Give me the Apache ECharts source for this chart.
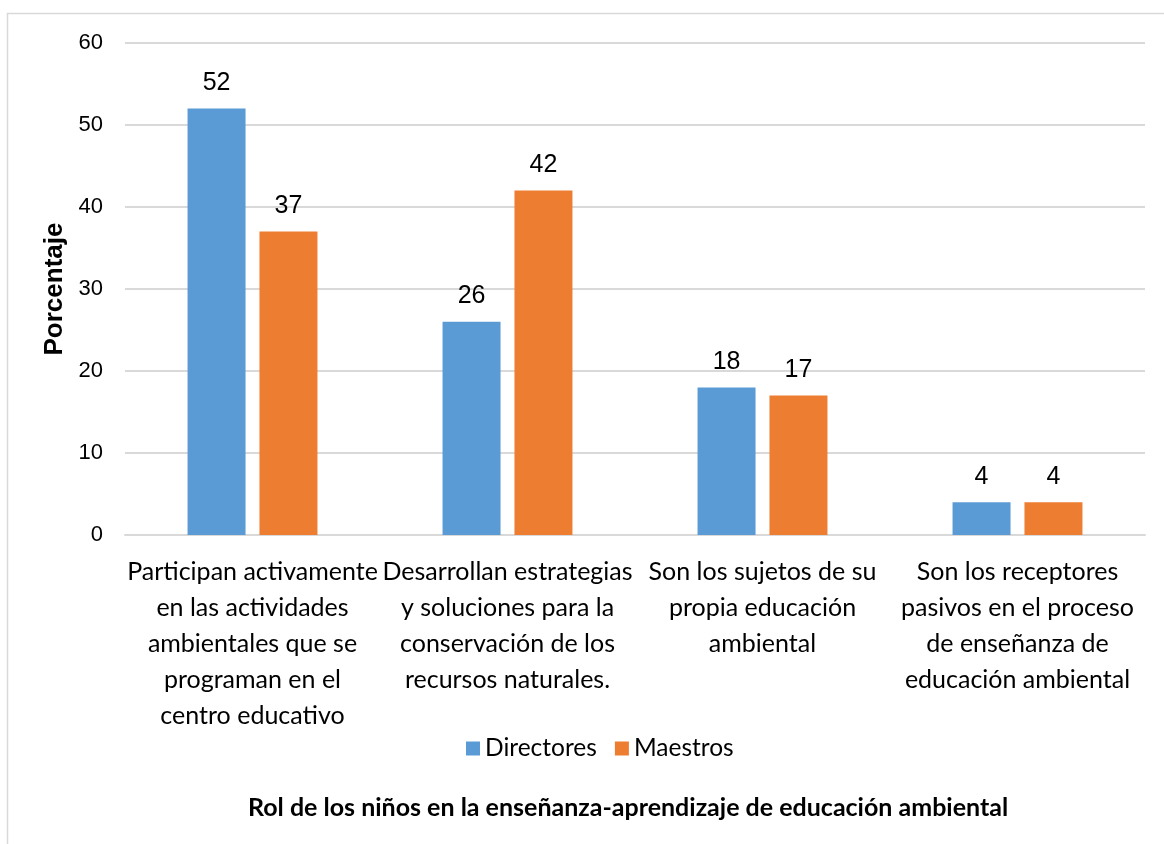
<!DOCTYPE html>
<html>
<head>
<meta charset="utf-8">
<script src="https://cdn.jsdelivr.net/npm/echarts@6/dist/echarts.min.js"></script>
<style>
  html, body { margin: 0; padding: 0; background: #fff; }
  #chart { width: 1164px; height: 844px; }
</style>
</head>
<body>
<div id="chart"></div>
<script>
let categories = [
  'Participan activamente\nen las actividades\nambientales que se\nprograman en el\ncentro educativo',
  'Desarrollan estrategias\ny soluciones para la\nconservación de los\nrecursos naturales.',
  'Son los sujetos de su\npropia educación\nambiental',
  'Son los receptores\npasivos en el proceso\nde enseñanza de\neducación ambiental'
]
let directores = [52, 26, 18, 4]
let maestros = [37, 42, 17, 4]
let yTicks = { min: 0, max: 60, interval: 10 }

let chart = echarts.init(document.getElementById('chart'))

let labelStyle = {
  show: true,
  position: 'top',
  distance: 13,
  fontFamily: 'Liberation Sans',
  fontSize: 25,
  color: '#000'
}

let option = {
  animation: false,
  graphic: [{
    type: 'rect',
    shape: { x: 7.5, y: 13.5, width: 1170, height: 840 },
    style: { fill: 'none', stroke: '#d9d9d9', lineWidth: 1.5 }
  }],
  title: {
    text: 'Rol de los niños en la enseñanza-aprendizaje de educación ambiental',
    left: 243,
    top: 790,
    textStyle: {
      fontFamily: 'Lato',
      fontWeight: 'bold',
      fontSize: 25,
      color: '#000'
    }
  },
  legend: {
    data: ['Directores', 'Maestros'],
    left: 461,
    top: 731,
    itemWidth: 14,
    itemHeight: 14,
    itemGap: 18,
    icon: 'rect',
    textStyle: {
      fontFamily: 'Lato',
      fontSize: 24.5,
      color: '#000'
    }
  },
  grid: {
    left: 125,
    right: 19,
    top: 43,
    bottom: 309
  },
  xAxis: {
    type: 'category',
    data: categories,
    axisLine: { lineStyle: { color: '#d9d9d9', width: 2 } },
    axisTick: { show: false },
    axisLabel: {
      interval: 0,
      margin: 19,
      fontFamily: 'Lato',
      fontSize: 25,
      lineHeight: 36,
      color: '#000'
    }
  },
  yAxis: {
    type: 'value',
    min: yTicks.min,
    max: yTicks.max,
    interval: yTicks.interval,
    name: 'Porcentaje',
    nameLocation: 'middle',
    nameRotate: 90,
    nameGap: 55,
    nameTextStyle: {
      fontFamily: 'Liberation Sans',
      fontWeight: 'bold',
      fontSize: 26,
      color: '#000'
    },
    axisLine: { show: false },
    axisTick: { show: false },
    splitLine: { lineStyle: { color: '#d9d9d9', width: 2 } },
    axisLabel: {
      margin: 22,
      fontFamily: 'Liberation Sans',
      fontSize: 22,
      color: '#000'
    }
  },
  series: [
    {
      name: 'Directores',
      type: 'bar',
      data: directores,
      barWidth: 58,
      barGap: '24%',
      itemStyle: { color: '#5b9bd5' },
      label: labelStyle
    },
    {
      name: 'Maestros',
      type: 'bar',
      data: maestros,
      barWidth: 58,
      itemStyle: { color: '#ed7d31' },
      label: labelStyle
    }
  ]
}
chart.setOption(option)
</script>
</body>
</html>
